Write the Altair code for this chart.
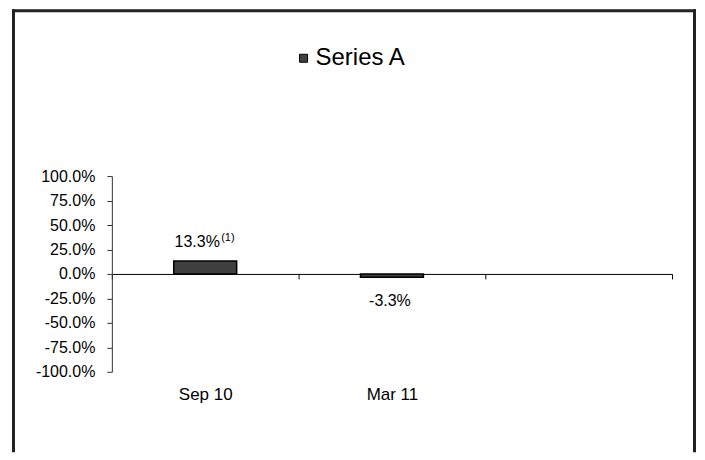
import altair as alt
import pandas as pd

FONT = "Liberation Sans"

categories = ["Sep 10", "Mar 11"]
values = [0.133, -0.033]
notes = ["(1)", ""]
slots = ["Sep 10", "Mar 11", ""]
series_name = "Series A"
y_ticks = [-1.0, -0.75, -0.5, -0.25, 0.0, 0.25, 0.5, 0.75, 1.0]

df = pd.DataFrame({
    "cat": categories,
    "value": values,
    "note": notes,
    "series": [series_name] * len(categories),
})
frame_df = pd.DataFrame({"k": [0]})

W, H = 561, 196
HYPHEN_EXPR = "replace(format(datum.value, '.1%'), '\u2212', '-')"

x_enc = alt.X(
    "cat:N",
    sort=slots,
    scale=alt.Scale(domain=slots, paddingInner=0, paddingOuter=0),
    axis=alt.Axis(
        title=None, orient="bottom", offset=-98,
        domainColor="black", domainWidth=1,
        tickBand="extent", tickSize=5, tickColor="black", tickWidth=1,
        labelPadding=108, labelFontSize=17, labelColor="black",
        labelAngle=0, labelFont=FONT,
    ),
)
y_enc = alt.Y(
    "value:Q",
    scale=alt.Scale(domain=[-1, 1], nice=False, zero=False),
    axis=alt.Axis(
        title=None, values=y_ticks, format=".1%", grid=False,
        labelExpr="replace(datum.label, '\u2212', '-')",
        tickSize=5, tickColor="#333333", domainColor="#333333",
        labelPadding=12, labelFontSize=16, labelColor="black", labelFont=FONT,
    ),
)

bars = alt.Chart(df).mark_bar(width=63, stroke="black", strokeWidth=1.5).encode(
    x=x_enc,
    y=y_enc,
    y2=alt.datum(0),
    color=alt.Color(
        "series:N",
        scale=alt.Scale(range=["#404040"]),
        legend=alt.Legend(
            title=None, orient="none", legendX=180, legendY=-130,
            symbolType="square", symbolSize=64, symbolStrokeColor="black",
            symbolStrokeWidth=1, symbolFillColor="#111111", labelOffset=0,
            labelFontSize=24, labelFont=FONT, labelColor="black", padding=0,
        ),
    ),
)

pos_labels = alt.Chart(df).transform_filter("datum.value >= 0").transform_calculate(
    lbl=HYPHEN_EXPR
).mark_text(
    baseline="alphabetic", dy=-14, dx=-8, fontSize=16, font=FONT, color="black"
).encode(x=x_enc, y=y_enc, text="lbl:N")

notes_layer = alt.Chart(df).transform_filter("datum.note != ''").mark_text(
    align="left", baseline="alphabetic", dy=-20, dx=16, fontSize=11, font=FONT, color="black"
).encode(x=x_enc, y=y_enc, text="note:N")

neg_labels = alt.Chart(df).transform_filter("datum.value < 0").transform_calculate(
    lbl=HYPHEN_EXPR
).mark_text(
    baseline="alphabetic", dy=29, dx=-2, fontSize=16, font=FONT, color="black"
).encode(x=x_enc, y=y_enc, text="lbl:N")

frame_style = dict(color="#222222", strokeWidth=3, strokeCap="square")
left_edge = alt.Chart(frame_df).mark_rule(**frame_style).encode(
    x=alt.value(-98.5), y=alt.value(-165.5), y2=alt.value(275))
top_edge = alt.Chart(frame_df).mark_rule(**frame_style).encode(
    x=alt.value(-98.5), x2=alt.value(583.5), y=alt.value(-165.5))
right_edge = alt.Chart(frame_df).mark_rule(**frame_style).encode(
    x=alt.value(583.5), y=alt.value(-165.5), y2=alt.value(275))

chart = alt.layer(
    bars, pos_labels, notes_layer, neg_labels, left_edge, top_edge, right_edge
).properties(
    width=W, height=H,
    padding={"left": 3, "top": 0, "right": 0, "bottom": 0},
    background="white",
).configure_view(stroke=None)

chart.save("out.html", embed_options={"renderer": "svg", "actions": False})
